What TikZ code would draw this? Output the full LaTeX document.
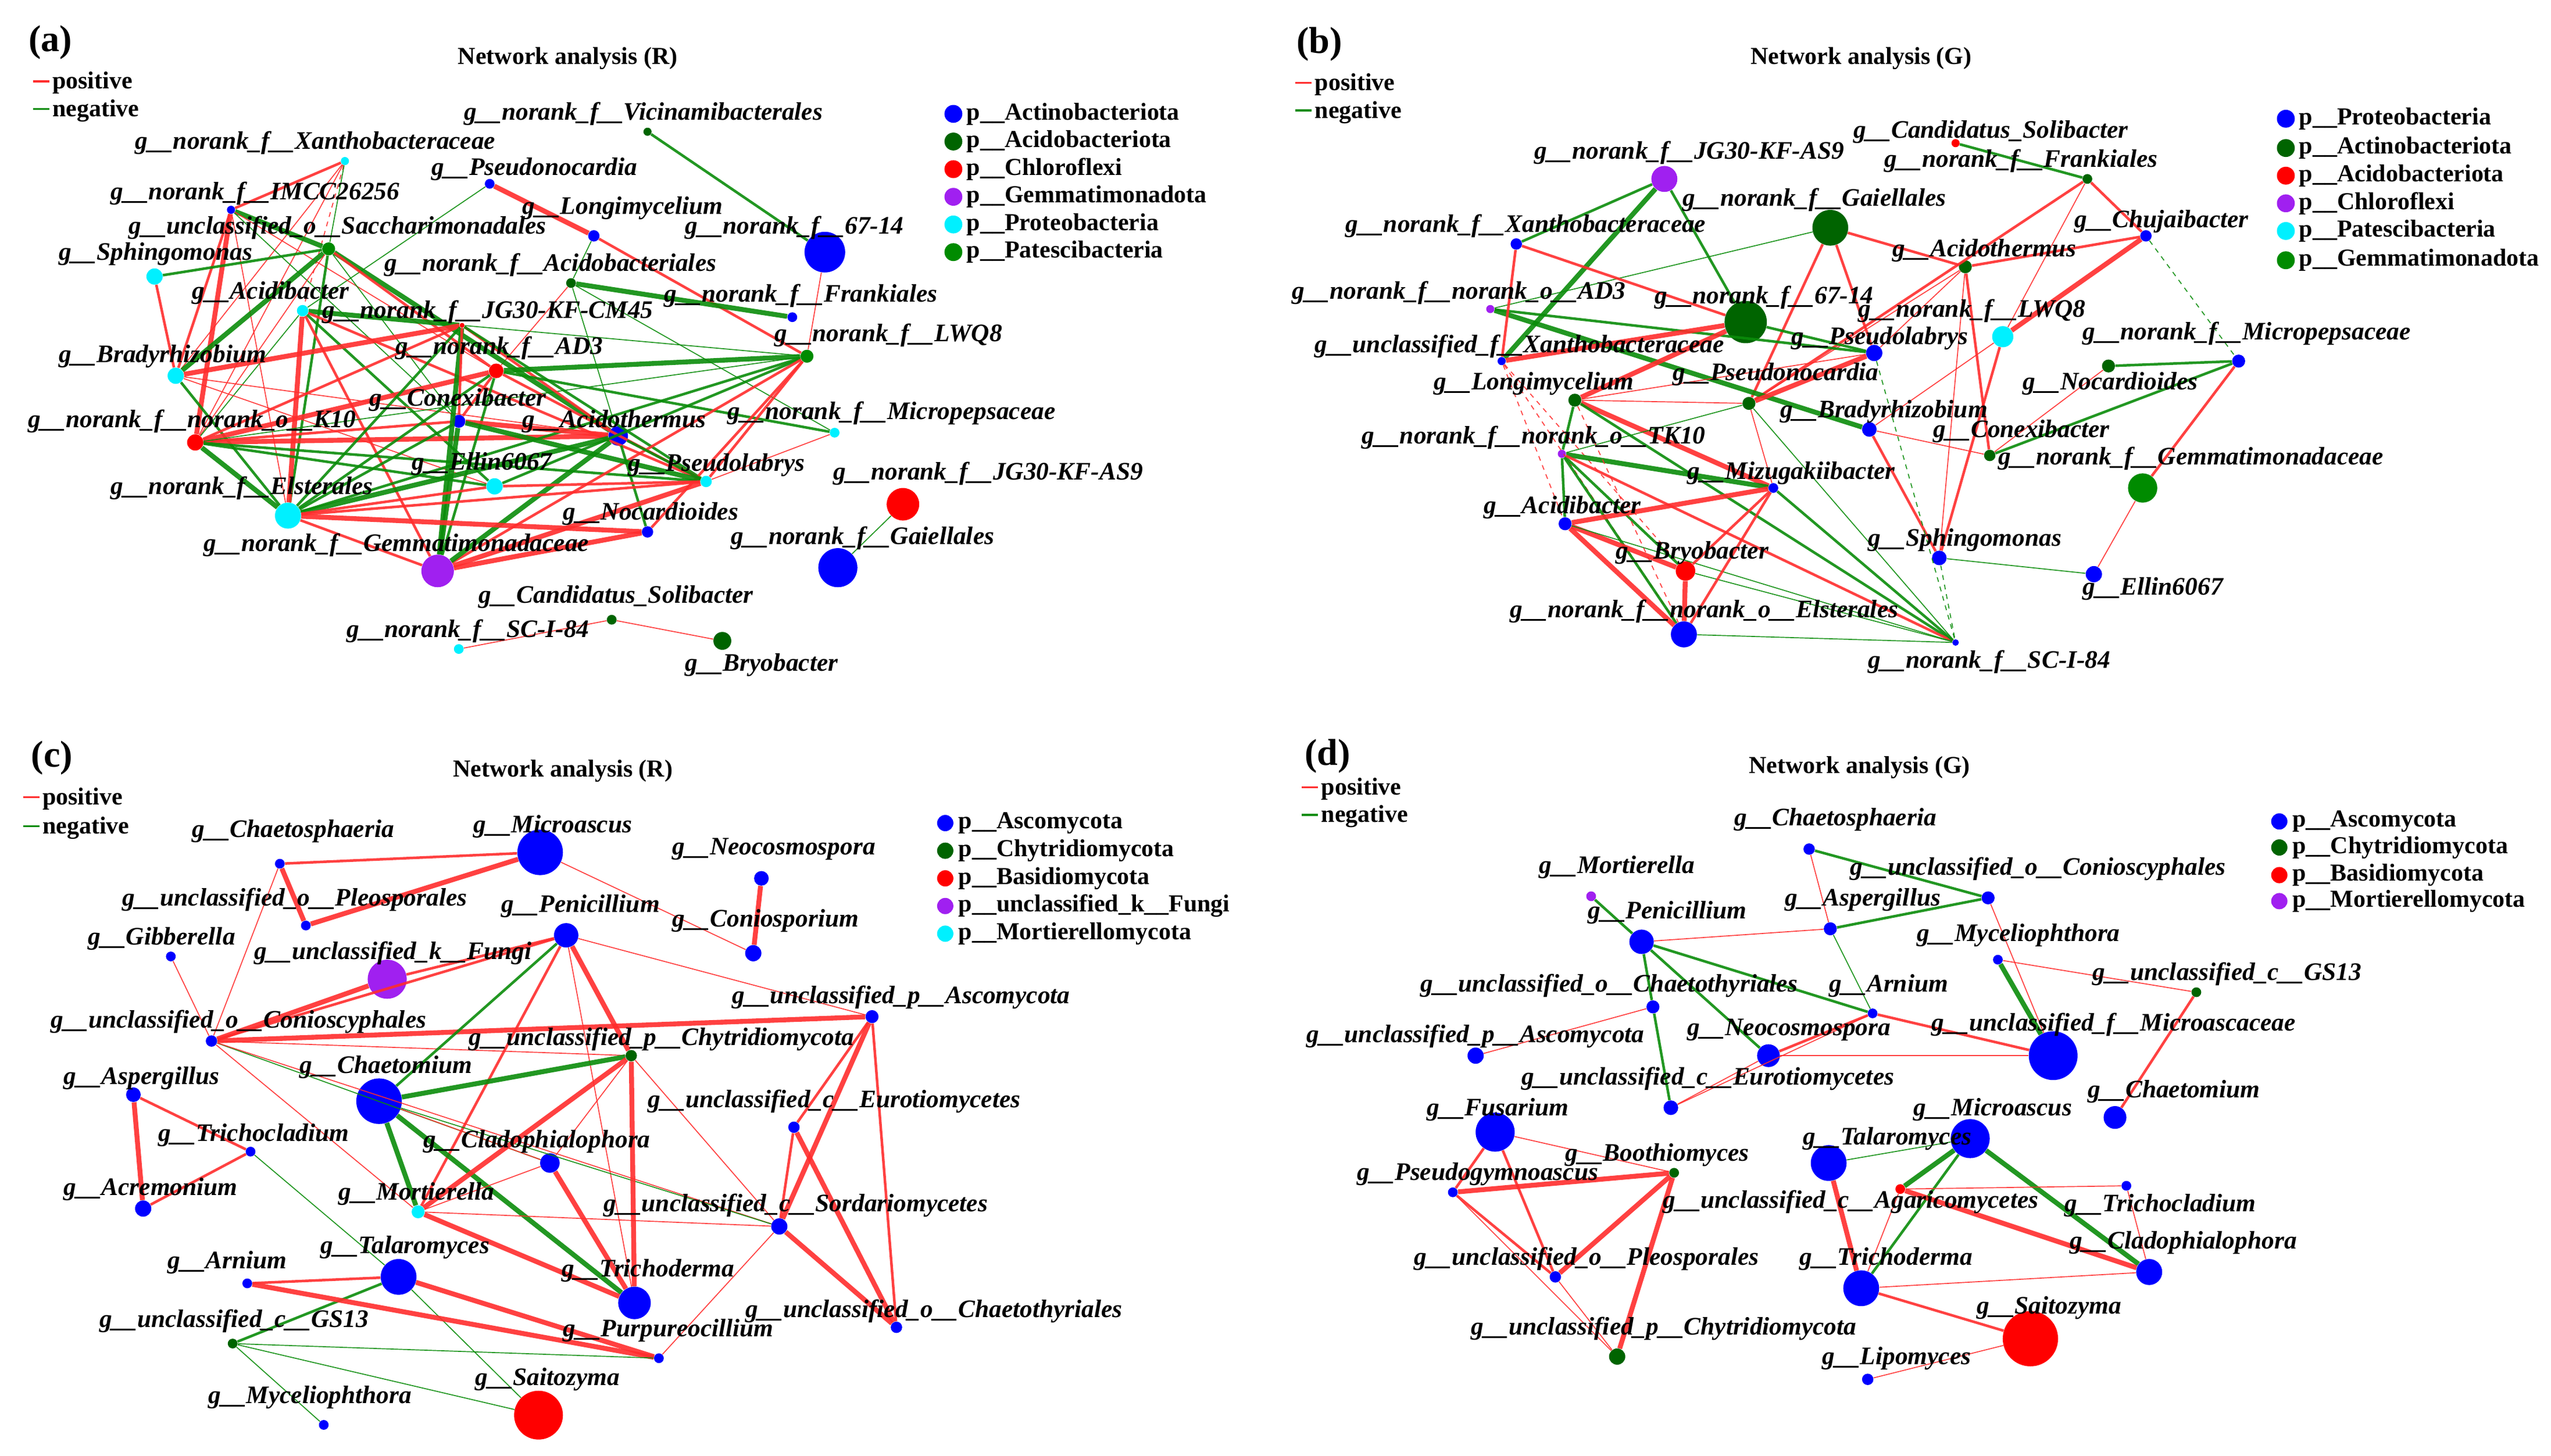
\documentclass[tikz,border=0pt]{standalone}
\usepackage{fontspec}
\setmainfont{Liberation Serif}
\definecolor{cB}{RGB}{0,0,255}
\definecolor{cDG}{RGB}{0,100,0}
\definecolor{cR}{RGB}{255,0,0}
\definecolor{cP}{RGB}{160,32,240}
\definecolor{cC}{RGB}{0,240,255}
\definecolor{cG}{RGB}{0,139,0}
\definecolor{eR}{RGB}{255,45,45}
\definecolor{eG}{RGB}{10,140,10}
\newcommand\labfont{\fontsize{15.5}{16}\selectfont\bfseries\itshape}
\newcommand\legfont{\fontsize{15}{16}\selectfont\bfseries}
\tikzset{
  nd/.style={circle, inner sep=0pt, minimum size=#1, draw=none},
  lab/.style={anchor=west, inner sep=0pt, font=\labfont},
  leg/.style={anchor=west, inner sep=0pt, font=\legfont},
  ttl/.style={inner sep=0pt, font=\legfont},
  plet/.style={inner sep=0pt, font=\fontsize{23}{24}\selectfont\bfseries},
  p1/.style={draw=eR, line width=0.6pt, draw opacity=0.9},
  p2/.style={draw=eR, line width=1.6pt, draw opacity=0.9},
  p3/.style={draw=eR, line width=3pt, draw opacity=0.9},
  n1/.style={draw=eG, line width=0.6pt, draw opacity=0.9},
  n2/.style={draw=eG, line width=1.6pt, draw opacity=0.9},
  n3/.style={draw=eG, line width=3pt, draw opacity=0.9},
}
\newcommand\posleg{{\color{eR}\rule[4pt]{10pt}{1.2pt}}\hspace{2pt}positive}
\newcommand\negleg{{\color{eG}\rule[4pt]{10pt}{1.2pt}}\hspace{2pt}negative}
\begin{document}
\begin{tikzpicture}[x=1pt,y=-1pt]
\fill[white] (0,0) rectangle (1568,895);
\useasboundingbox (0,0) rectangle (1568,895);

%================ PANEL (a) ================
\node[plet] (aLetter) at (31,26) {(a)};
\node[ttl] (aTitle) at (349,36) {Network analysis (R)};
\node[leg] (aPos) at (20,51) {\posleg};
\node[leg] (aNeg) at (20,68) {\negleg};
\node[nd=11, fill=cB] (aD1) at (586,70) {};
\node[leg] (aT1) at (594,70) {p\_\_Actinobacteriota};
\node[nd=11, fill=cDG] (aD2) at (586,87) {};
\node[leg] (aT2) at (594,87) {p\_\_Acidobacteriota};
\node[nd=11, fill=cR] (aD3) at (586,104) {};
\node[leg] (aT3) at (594,104) {p\_\_Chloroflexi};
\node[nd=11, fill=cP] (aD4) at (586,121) {};
\node[leg] (aT4) at (594,121) {p\_\_Gemmatimonadota};
\node[nd=11, fill=cC] (aD5) at (586,138) {};
\node[leg] (aT5) at (594,138) {p\_\_Proteobacteria};
\node[nd=11, fill=cG] (aD6) at (586,155) {};
\node[leg] (aT6) at (594,155) {p\_\_Patescibacteria};

\node[nd=5, fill=cDG] (aVic) at (398,81) {};
\node[nd=5, fill=cC] (aXan) at (212,99) {};
\node[nd=6, fill=cB] (aPsn) at (301,113) {};
\node[nd=5, fill=cB] (aIMC) at (142,129) {};
\node[nd=7, fill=cB] (aLon) at (365,145) {};
\node[nd=25, fill=cB] (a67) at (507,155) {};
\node[nd=8, fill=cG] (aSac) at (202,153) {};
\node[nd=10, fill=cC] (aSph) at (95,170) {};
\node[nd=6, fill=cDG] (aAcb) at (351,174) {};
\node[nd=7, fill=cC] (aAcd) at (186,191) {};
\node[nd=3, fill=cR] (aCM) at (284,200) {};
\node[nd=6, fill=cB] (aFra) at (487,195) {};
\node[nd=8, fill=cG] (aLWQ) at (496,219) {};
\node[nd=9, fill=cR] (aAD3) at (305,228) {};
\node[nd=10, fill=cC] (aBra) at (108,231) {};
\node[nd=8, fill=cB] (aCon) at (282,259) {};
\node[nd=10, fill=cR] (aK10) at (120,272) {};
\node[nd=12, fill=cB] (aAct) at (380,268) {};
\node[nd=6, fill=cC] (aMic) at (513,266) {};
\node[nd=10, fill=cC] (aEll) at (304,299) {};
\node[nd=7, fill=cC] (aPsl) at (434,296) {};
\node[nd=20, fill=cR] (aAS9) at (555,310) {};
\node[nd=16, fill=cC] (aEls) at (177,317) {};
\node[nd=7, fill=cB] (aNoc) at (398,327) {};
\node[nd=20, fill=cP] (aGem) at (269,351) {};
\node[nd=24, fill=cB] (aGai) at (515,349) {};
\node[nd=6, fill=cDG] (aSol) at (376,381) {};
\node[nd=6, fill=cC] (aSCI) at (282,399) {};
\node[nd=11, fill=cDG] (aBry) at (444,394) {};

\draw[p2] (aXan) -- (aIMC);
\draw[p1] (aXan) -- (aK10);
\draw[p1] (aXan) -- (aBra);
\draw[p1, dashed] (aXan) -- (aAcd);
\draw[n1] (aXan) -- (aSac);
\draw[p3] (aPsn) -- (aLon);
\draw[n1] (aPsn) -- (aAcd);
\draw[n2] (aVic) -- (a67);
\draw[n1] (aLon) -- (aAcb);
\draw[p2] (aLon) -- (aLWQ);
\draw[p1] (a67) -- (aLWQ);
\draw[n3] (aAcb) -- (aFra);
\draw[p1] (aAcb) -- (aAD3);
\draw[n1] (aAcb) -- (aAct);
\draw[n1] (aAcb) -- (aMic);
\draw[p3] (aIMC) -- (aK10);
\draw[p2] (aIMC) -- (aBra);
\draw[p1] (aIMC) -- (aEls);
\draw[n3] (aIMC) -- (aSac);
\draw[n1] (aIMC) -- (aCon);
\draw[p1] (aIMC) -- (aAD3);
\draw[n2] (aSac) -- (aSph);
\draw[p2] (aSph) -- (aBra);
\draw[n3] (aSac) -- (aBra);
\draw[n3] (aSac) -- (aAct);
\draw[p2] (aSac) -- (aAD3);
\draw[n2] (aSac) -- (aEls);
\draw[p1] (aSac) -- (aK10);
\draw[n1] (aSac) -- (aCon);
\draw[n3] (aAcd) -- (aCM);
\draw[p3] (aAcd) -- (aEls);
\draw[p2] (aAcd) -- (aGem);
\draw[p2] (aAcd) -- (aPsl);
\draw[n1] (aAcd) -- (aK10);
\draw[n2] (aAcd) -- (aEll);
\draw[p3] (aBra) -- (aCM);
\draw[p1] (aBra) -- (aAct);
\draw[p1] (aBra) -- (aEll);
\draw[n2] (aBra) -- (aEls);
\draw[p2] (aK10) -- (aCM);
\draw[p3] (aK10) -- (aAD3);
\draw[p3] (aK10) -- (aAct);
\draw[p2] (aK10) -- (aCon);
\draw[n3] (aK10) -- (aEls);
\draw[n2] (aK10) -- (aPsl);
\draw[n2] (aK10) -- (aEll);
\draw[n1] (aK10) -- (aLWQ);
\draw[n2] (aCM) -- (aEls);
\draw[n3] (aCM) -- (aGem);
\draw[p2] (aCM) -- (aAct);
\draw[n1] (aCM) -- (aLWQ);
\draw[p2] (aCM) -- (aCon);
\draw[n2] (aCM) -- (aPsl);
\draw[n3] (aAD3) -- (aLWQ);
\draw[p2] (aAD3) -- (aPsl);
\draw[n2] (aAD3) -- (aMic);
\draw[n2] (aAD3) -- (aEls);
\draw[n2] (aAD3) -- (aGem);
\draw[p2] (aAD3) -- (aCon);
\draw[n2] (aLWQ) -- (aEls);
\draw[n2] (aLWQ) -- (aEll);
\draw[p2] (aLWQ) -- (aGem);
\draw[p2] (aLWQ) -- (aNoc);
\draw[p2] (aLWQ) -- (aPsl);
\draw[p3] (aCon) -- (aAct);
\draw[n3] (aCon) -- (aGem);
\draw[n3] (aCon) -- (aPsl);
\draw[n2] (aCon) -- (aEls);
\draw[n3] (aEls) -- (aAct);
\draw[n3] (aGem) -- (aAct);
\draw[n2] (aAct) -- (aPsl);
\draw[n2] (aAct) -- (aNoc);
\draw[p2] (aEls) -- (aEll);
\draw[p2] (aEls) -- (aPsl);
\draw[p3] (aEls) -- (aNoc);
\draw[p2] (aEls) -- (aGem);
\draw[p3] (aGem) -- (aPsl);
\draw[p3] (aGem) -- (aNoc);
\draw[p1] (aMic) -- (aPsl);
\draw[p2] (aEll) -- (aPsl);
\draw[n1] (aAS9) -- (aGai);
\draw[p1] (aSol) -- (aSCI);
\draw[p1] (aSol) -- (aBry);

\node[lab] (aVicL) at (285,70) {g\_\_norank\_f\_\_Vicinamibacterales};
\node[lab] (aXanL) at (83,88) {g\_\_norank\_f\_\_Xanthobacteraceae};
\node[lab] (aPsnL) at (265,104) {g\_\_Pseudonocardia};
\node[lab] (aIMCL) at (68,119) {g\_\_norank\_f\_\_IMCC26256};
\node[lab] (aLonL) at (321,128) {g\_\_Longimycelium};
\node[lab] (a67L) at (421,140) {g\_\_norank\_f\_\_67-14};
\node[lab] (aSacL) at (79,140) {g\_\_unclassified\_o\_\_Saccharimonadales};
\node[lab] (aSphL) at (36,156) {g\_\_Sphingomonas};
\node[lab] (aAcbL) at (236,163) {g\_\_norank\_f\_\_Acidobacteriales};
\node[lab] (aAcdL) at (118,180) {g\_\_Acidibacter};
\node[lab] (aFraL) at (408,182) {g\_\_norank\_f\_\_Frankiales};
\node[lab] (aCML) at (198,192) {g\_\_norank\_f\_\_JG30-KF-CM45};
\node[lab] (aLWQL) at (476,206) {g\_\_norank\_f\_\_LWQ8};
\node[lab] (aAD3L) at (243,214) {g\_\_norank\_f\_\_AD3};
\node[lab] (aBraL) at (36,219) {g\_\_Bradyrhizobium};
\node[lab] (aConL) at (227,246) {g\_\_Conexibacter};
\node[lab] (aMicL) at (447,254) {g\_\_norank\_f\_\_Micropepsaceae};
\node[lab] (aK10L) at (17,259) {g\_\_norank\_f\_\_norank\_o\_\_K10};
\node[lab] (aActL) at (321,259) {g\_\_Acidothermus};
\node[lab] (aEllL) at (253,285) {g\_\_Ellin6067};
\node[lab] (aPslL) at (386,286) {g\_\_Pseudolabrys};
\node[lab] (aAS9L) at (512,291) {g\_\_norank\_f\_\_JG30-KF-AS9};
\node[lab] (aElsL) at (68,300) {g\_\_norank\_f\_\_Elsterales};
\node[lab] (aNocL) at (346,316) {g\_\_Nocardioides};
\node[lab] (aGaiL) at (449,331) {g\_\_norank\_f\_\_Gaiellales};
\node[lab] (aGemL) at (125,335) {g\_\_norank\_f\_\_Gemmatimonadaceae};
\node[lab] (aSolL) at (294,367) {g\_\_Candidatus\_Solibacter};
\node[lab] (aSCIL) at (213,388) {g\_\_norank\_f\_\_SC-I-84};
\node[lab] (aBryL) at (421,409) {g\_\_Bryobacter};

%================ PANEL (b) ================
\node[plet] (bLetter) at (811,27) {(b)};
\node[ttl] (bTitle) at (1144,36) {Network analysis (G)};
\node[leg] (bPos) at (796,52) {\posleg};
\node[leg] (bNeg) at (796,69) {\negleg};
\node[nd=11, fill=cB] (bD1) at (1405,73) {};
\node[leg] (bT1) at (1413,73) {p\_\_Proteobacteria};
\node[nd=11, fill=cDG] (bD2) at (1405,91) {};
\node[leg] (bT2) at (1413,91) {p\_\_Actinobacteriota};
\node[nd=11, fill=cR] (bD3) at (1405,108) {};
\node[leg] (bT3) at (1413,108) {p\_\_Acidobacteriota};
\node[nd=11, fill=cP] (bD4) at (1405,125) {};
\node[leg] (bT4) at (1413,125) {p\_\_Chloroflexi};
\node[nd=11, fill=cC] (bD5) at (1405,142) {};
\node[leg] (bT5) at (1413,142) {p\_\_Patescibacteria};
\node[nd=11, fill=cG] (bD6) at (1405,160) {};
\node[leg] (bT6) at (1413,160) {p\_\_Gemmatimonadota};

\node[nd=16, fill=cP] (bAS9) at (1023,110) {};
\node[nd=5, fill=cR] (bSol) at (1202,88) {};
\node[nd=6, fill=cDG] (bFra) at (1283,110) {};
\node[nd=22, fill=cDG] (bGai) at (1125,140) {};
\node[nd=7, fill=cB] (bXan) at (932,150) {};
\node[nd=7, fill=cB] (bChu) at (1319,145) {};
\node[nd=8, fill=cDG] (bAct) at (1208,164) {};
\node[nd=5, fill=cP] (bAD3) at (916,190) {};
\node[nd=26, fill=cDG] (b67) at (1073,198) {};
\node[nd=13, fill=cC] (bLWQ) at (1231,207) {};
\node[nd=10, fill=cB] (bPsl) at (1152,217) {};
\node[nd=8, fill=cB] (bMic) at (1376,222) {};
\node[nd=5, fill=cB] (bUXa) at (923,222) {};
\node[nd=8, fill=cDG] (bLon) at (968,246) {};
\node[nd=8, fill=cDG] (bPsn) at (1075,248) {};
\node[nd=8, fill=cDG] (bNoc) at (1296,225) {};
\node[nd=9, fill=cB] (bBra) at (1149,264) {};
\node[nd=7, fill=cDG] (bCon) at (1223,280) {};
\node[nd=18, fill=cG] (bGmm) at (1317,300) {};
\node[nd=5, fill=cP] (bTK) at (960,279) {};
\node[nd=6, fill=cB] (bMiz) at (1090,300) {};
\node[nd=8, fill=cB] (bAcd) at (962,322) {};
\node[nd=12, fill=cR] (bBry) at (1036,351) {};
\node[nd=9, fill=cB] (bSph) at (1192,343) {};
\node[nd=10, fill=cB] (bEll) at (1287,353) {};
\node[nd=16, fill=cB] (bEls) at (1035,390) {};
\node[nd=4, fill=cB] (bSCI) at (1202,395) {};

\draw[n2] (bAS9) -- (bXan);
\draw[n3] (bAS9) -- (bUXa);
\draw[n2] (bAS9) -- (b67);
\draw[n2] (bSol) -- (bFra);
\draw[p2] (bFra) -- (bChu);
\draw[p2] (bFra) -- (bPsn);
\draw[p1] (bFra) -- (bLWQ);
\draw[p2] (bGai) -- (bAct);
\draw[p2] (bGai) -- (bPsn);
\draw[p2] (bGai) -- (bPsl);
\draw[n1] (bGai) -- (bAD3);
\draw[p2] (bChu) -- (bAct);
\draw[p3] (bChu) -- (bLWQ);
\draw[n1, dashed] (bChu) -- (bMic);
\draw[p1] (bAct) -- (bPsn);
\draw[p1] (bAct) -- (bPsl);
\draw[p2] (bAct) -- (bCon);
\draw[p1] (bAct) -- (bSph);
\draw[p1] (bLWQ) -- (bBra);
\draw[p2] (bLWQ) -- (bSph);
\draw[n2] (bMic) -- (bNoc);
\draw[n2] (bMic) -- (bCon);
\draw[p2] (bMic) -- (bGmm);
\draw[p1] (bGmm) -- (bEll);
\draw[n1] (bSph) -- (bEll);
\draw[p1] (bCon) -- (bBra);
\draw[p1] (bCon) -- (bNoc);
\draw[p2] (bBra) -- (bSph);
\draw[n3] (bAD3) -- (bBra);
\draw[n2] (bAD3) -- (bPsl);
\draw[p2] (bXan) -- (bUXa);
\draw[p2] (bXan) -- (b67);
\draw[p3] (b67) -- (bUXa);
\draw[n2] (b67) -- (bPsl);
\draw[p3] (bLon) -- (b67);
\draw[p1] (bLon) -- (bPsn);
\draw[p1] (bLon) -- (bPsl);
\draw[n2] (bLon) -- (bTK);
\draw[p3] (bLon) -- (bMiz);
\draw[n2] (bLon) -- (bSCI);
\draw[p1, dashed] (bUXa) -- (bBry);
\draw[p1, dashed] (bUXa) -- (bEls);
\draw[p1, dashed] (bUXa) -- (bAcd);
\draw[p3] (bPsn) -- (bPsl);
\draw[p1] (bPsn) -- (bMiz);
\draw[n1] (bPsn) -- (bSCI);
\draw[n1] (bPsn) -- (bTK);
\draw[n1, dashed] (bPsl) -- (bSCI);
\draw[n3] (bTK) -- (bMiz);
\draw[n2] (bTK) -- (bAcd);
\draw[n2] (bTK) -- (bEls);
\draw[n2] (bTK) -- (bBry);
\draw[p2] (bTK) -- (bSCI);
\draw[p3] (bAcd) -- (bMiz);
\draw[p3] (bAcd) -- (bBry);
\draw[p3] (bAcd) -- (bEls);
\draw[n1] (bAcd) -- (bSCI);
\draw[p2] (bBry) -- (bMiz);
\draw[p3] (bBry) -- (bEls);
\draw[n1] (bBry) -- (bSCI);
\draw[p2] (bMiz) -- (bEls);
\draw[n2] (bMiz) -- (bSCI);
\draw[n1] (bEls) -- (bSCI);
\draw[n1, dashed] (bSph) -- (bSCI);
\draw[p1, dashed] (bLon) -- (bEls);

\node[lab] (bAS9L) at (943,94) {g\_\_norank\_f\_\_JG30-KF-AS9};
\node[lab] (bSolL) at (1139,81) {g\_\_Candidatus\_Solibacter};
\node[lab] (bFraL) at (1158,99) {g\_\_norank\_f\_\_Frankiales};
\node[lab] (bGaiL) at (1034,123) {g\_\_norank\_f\_\_Gaiellales};
\node[lab] (bXanL) at (827,139) {g\_\_norank\_f\_\_Xanthobacteraceae};
\node[lab] (bChuL) at (1275,136) {g\_\_Chujaibacter};
\node[lab] (bActL) at (1163,154) {g\_\_Acidothermus};
\node[lab] (bAD3L) at (794,180) {g\_\_norank\_f\_\_norank\_o\_\_AD3};
\node[lab] (b67L) at (1017,183) {g\_\_norank\_f\_\_67-14};
\node[lab] (bLWQL) at (1142,191) {g\_\_norank\_f\_\_LWQ8};
\node[lab] (bMicL) at (1280,205) {g\_\_norank\_f\_\_Micropepsaceae};
\node[lab] (bPslL) at (1101,208) {g\_\_Pseudolabrys};
\node[lab] (bUXaL) at (808,213) {g\_\_unclassified\_f\_\_Xanthobacteraceae};
\node[lab] (bPsnL) at (1028,230) {g\_\_Pseudonocardia};
\node[lab] (bLonL) at (881,236) {g\_\_Longimycelium};
\node[lab] (bNocL) at (1243,236) {g\_\_Nocardioides};
\node[lab] (bBraL) at (1094,253) {g\_\_Bradyrhizobium};
\node[lab] (bConL) at (1188,265) {g\_\_Conexibacter};
\node[lab] (bTKL) at (837,269) {g\_\_norank\_f\_\_norank\_o\_\_TK10};
\node[lab] (bGmmL) at (1228,282) {g\_\_norank\_f\_\_Gemmatimonadaceae};
\node[lab] (bMizL) at (1037,291) {g\_\_Mizugakiibacter};
\node[lab] (bAcdL) at (912,312) {g\_\_Acidibacter};
\node[lab] (bSphL) at (1148,332) {g\_\_Sphingomonas};
\node[lab] (bBryL) at (993,340) {g\_\_Bryobacter};
\node[lab] (bEllL) at (1280,362) {g\_\_Ellin6067};
\node[lab] (bElsL) at (928,376) {g\_\_norank\_f\_\_norank\_o\_\_Elsterales};
\node[lab] (bSCIL) at (1148,407) {g\_\_norank\_f\_\_SC-I-84};

%================ PANEL (c) ================
\node[plet] (cLetter) at (32,466) {(c)};
\node[ttl] (cTitle) at (346,474) {Network analysis (R)};
\node[leg] (cPos) at (14,491) {\posleg};
\node[leg] (cNeg) at (14,509) {\negleg};
\node[nd=10, fill=cB] (cD1) at (581,506) {};
\node[leg] (cT1) at (589,506) {p\_\_Ascomycota};
\node[nd=10, fill=cDG] (cD2) at (581,523) {};
\node[leg] (cT2) at (589,523) {p\_\_Chytridiomycota};
\node[nd=10, fill=cR] (cD3) at (581,540) {};
\node[leg] (cT3) at (589,540) {p\_\_Basidiomycota};
\node[nd=10, fill=cP] (cD4) at (581,557) {};
\node[leg] (cT4) at (589,557) {p\_\_unclassified\_k\_\_Fungi};
\node[nd=10, fill=cC] (cD5) at (581,574) {};
\node[leg] (cT5) at (589,574) {p\_\_Mortierellomycota};

\node[nd=6, fill=cB] (cChs) at (172,531) {};
\node[nd=28, fill=cB] (cMic) at (332,524) {};
\node[nd=6, fill=cB] (cPle) at (188,569) {};
\node[nd=15, fill=cB] (cPen) at (348,575) {};
\node[nd=6, fill=cB] (cGib) at (105,588) {};
\node[nd=24, fill=cP] (cFun) at (238,602) {};
\node[nd=7, fill=cB] (cCon) at (130,640) {};
\node[nd=7, fill=cDG] (cChy) at (388,649) {};
\node[nd=9, fill=cB] (cNeo) at (468,540) {};
\node[nd=10, fill=cB] (cCos) at (463,586) {};
\node[nd=8, fill=cB] (cAsc) at (536,625) {};
\node[nd=28, fill=cB] (cCht) at (233,677) {};
\node[nd=9, fill=cB] (cAsp) at (82,673) {};
\node[nd=6, fill=cB] (cTcl) at (154,708) {};
\node[nd=12, fill=cB] (cCla) at (338,715) {};
\node[nd=10, fill=cB] (cAcr) at (88,743) {};
\node[nd=8, fill=cC] (cMor) at (257,745) {};
\node[nd=7, fill=cB] (cEur) at (488,693) {};
\node[nd=10, fill=cB] (cSor) at (479,754) {};
\node[nd=22, fill=cB] (cTal) at (245,785) {};
\node[nd=6, fill=cB] (cArn) at (152,789) {};
\node[nd=20, fill=cB] (cTri) at (390,801) {};
\node[nd=6, fill=cB] (cPur) at (405,835) {};
\node[nd=7, fill=cB] (cCtt) at (551,816) {};
\node[nd=6, fill=cDG] (cGS) at (143,826) {};
\node[nd=6, fill=cB] (cMyc) at (199,876) {};
\node[nd=30, fill=cR] (cSai) at (331,870) {};

\draw[p2] (cChs) -- (cMic);
\draw[p3] (cChs) -- (cPle);
\draw[p1] (cChs) -- (cCon);
\draw[p3] (cPle) -- (cMic);
\draw[p1] (cMic) -- (cCos);
\draw[p3] (cNeo) -- (cCos);
\draw[p1] (cGib) -- (cCon);
\draw[p2] (cFun) -- (cPen);
\draw[p3] (cFun) -- (cCon);
\draw[p2] (cCon) -- (cPen);
\draw[p3] (cCon) -- (cAsc);
\draw[p1] (cCon) -- (cChy);
\draw[p1] (cCon) -- (cMor);
\draw[n1] (cCon) -- (cCla);
\draw[p1] (cCon) -- (cSor);
\draw[n2] (cPen) -- (cCht);
\draw[p2] (cPen) -- (cMor);
\draw[p3] (cPen) -- (cChy);
\draw[p1] (cPen) -- (cTri);
\draw[p1] (cPen) -- (cAsc);
\draw[n3] (cCht) -- (cChy);
\draw[n3] (cCht) -- (cMor);
\draw[n3] (cCht) -- (cTri);
\draw[n1] (cCht) -- (cSor);
\draw[p1] (cCht) -- (cCla);
\draw[p3] (cChy) -- (cMor);
\draw[p1] (cChy) -- (cCla);
\draw[p3] (cChy) -- (cTri);
\draw[p1] (cChy) -- (cSor);
\draw[p2] (cAsc) -- (cEur);
\draw[p3] (cAsc) -- (cSor);
\draw[p2] (cAsc) -- (cCtt);
\draw[p2] (cEur) -- (cSor);
\draw[p3] (cEur) -- (cCtt);
\draw[p3] (cSor) -- (cCtt);
\draw[p1] (cSor) -- (cPur);
\draw[p1] (cMor) -- (cSor);
\draw[p3] (cMor) -- (cTri);
\draw[p3] (cCla) -- (cTri);
\draw[p1] (cCla) -- (cMor);
\draw[p3] (cAsp) -- (cAcr);
\draw[p2] (cAsp) -- (cTcl);
\draw[p2] (cTcl) -- (cAcr);
\draw[n1] (cTcl) -- (cTal);
\draw[n1] (cTal) -- (cSai);
\draw[p2] (cTal) -- (cArn);
\draw[n2] (cTal) -- (cGS);
\draw[p3] (cTal) -- (cPur);
\draw[p3] (cArn) -- (cPur);
\draw[n1] (cGS) -- (cPur);
\draw[n1] (cGS) -- (cSai);
\draw[n1] (cGS) -- (cMyc);

\node[lab] (cChsL) at (118,511) {g\_\_Chaetosphaeria};
\node[lab] (cMicL) at (291,508) {g\_\_Microascus};
\node[lab] (cNeoL) at (413,522) {g\_\_Neocosmospora};
\node[lab] (cPleL) at (75,553) {g\_\_unclassified\_o\_\_Pleosporales};
\node[lab] (cPenL) at (308,557) {g\_\_Penicillium};
\node[lab] (cCosL) at (413,566) {g\_\_Coniosporium};
\node[lab] (cGibL) at (54,577) {g\_\_Gibberella};
\node[lab] (cFunL) at (156,586) {g\_\_unclassified\_k\_\_Fungi};
\node[lab] (cAscL) at (450,613) {g\_\_unclassified\_p\_\_Ascomycota};
\node[lab] (cConL) at (31,628) {g\_\_unclassified\_o\_\_Conioscyphales};
\node[lab] (cChyL) at (288,639) {g\_\_unclassified\_p\_\_Chytridiomycota};
\node[lab] (cChtL) at (184,656) {g\_\_Chaetomium};
\node[lab] (cAspL) at (39,663) {g\_\_Aspergillus};
\node[lab] (cEurL) at (398,677) {g\_\_unclassified\_c\_\_Eurotiomycetes};
\node[lab] (cTclL) at (97,698) {g\_\_Trichocladium};
\node[lab] (cClaL) at (260,702) {g\_\_Cladophialophora};
\node[lab] (cAcrL) at (39,731) {g\_\_Acremonium};
\node[lab] (cMorL) at (208,734) {g\_\_Mortierella};
\node[lab] (cSorL) at (371,741) {g\_\_unclassified\_c\_\_Sordariomycetes};
\node[lab] (cTalL) at (197,767) {g\_\_Talaromyces};
\node[lab] (cArnL) at (103,776) {g\_\_Arnium};
\node[lab] (cTriL) at (345,781) {g\_\_Trichoderma};
\node[lab] (cCttL) at (458,806) {g\_\_unclassified\_o\_\_Chaetothyriales};
\node[lab] (cGSL) at (61,812) {g\_\_unclassified\_c\_\_GS13};
\node[lab] (cPurL) at (346,818) {g\_\_Purpureocillium};
\node[lab] (cSaiL) at (292,848) {g\_\_Saitozyma};
\node[lab] (cMycL) at (128,859) {g\_\_Myceliophthora};

%================ PANEL (d) ================
\node[plet] (dLetter) at (816,465) {(d)};
\node[ttl] (dTitle) at (1143,472) {Network analysis (G)};
\node[leg] (dPos) at (800,485) {\posleg};
\node[leg] (dNeg) at (800,502) {\negleg};
\node[nd=10, fill=cB] (dD1) at (1401,505) {};
\node[leg] (dT1) at (1409,505) {p\_\_Ascomycota};
\node[nd=10, fill=cDG] (dD2) at (1401,521) {};
\node[leg] (dT2) at (1409,521) {p\_\_Chytridiomycota};
\node[nd=10, fill=cR] (dD3) at (1401,538) {};
\node[leg] (dT3) at (1409,538) {p\_\_Basidiomycota};
\node[nd=10, fill=cP] (dD4) at (1401,554) {};
\node[leg] (dT4) at (1409,554) {p\_\_Mortierellomycota};

\node[nd=7, fill=cB] (dChs) at (1112,522) {};
\node[nd=6, fill=cP] (dMor) at (978,551) {};
\node[nd=15, fill=cB] (dPen) at (1009,579) {};
\node[nd=8, fill=cB] (dAsp) at (1125,571) {};
\node[nd=8, fill=cB] (dCon) at (1222,552) {};
\node[nd=6, fill=cB] (dMyc) at (1228,590) {};
\node[nd=6, fill=cDG] (dGS) at (1350,610) {};
\node[nd=8, fill=cB] (dCtt) at (1016,619) {};
\node[nd=6, fill=cB] (dArn) at (1151,623) {};
\node[nd=10, fill=cB] (dAsc) at (907,649) {};
\node[nd=14, fill=cB] (dNeo) at (1087,649) {};
\node[nd=30, fill=cB] (dMcc) at (1262,649) {};
\node[nd=9, fill=cB] (dEur) at (1027,681) {};
\node[nd=14, fill=cB] (dCht) at (1300,687) {};
\node[nd=24, fill=cB] (dFus) at (919,696) {};
\node[nd=24, fill=cB] (dMic) at (1211,700) {};
\node[nd=22, fill=cB] (dTal) at (1124,715) {};
\node[nd=6, fill=cDG] (dBoo) at (1029,721) {};
\node[nd=6, fill=cB] (dPsg) at (893,733) {};
\node[nd=6, fill=cR] (dAga) at (1168,731) {};
\node[nd=6, fill=cB] (dTcl) at (1307,729) {};
\node[nd=7, fill=cB] (dPle) at (956,785) {};
\node[nd=22, fill=cB] (dTri) at (1144,792) {};
\node[nd=16, fill=cB] (dCla) at (1321,782) {};
\node[nd=34, fill=cR] (dSai) at (1248,823) {};
\node[nd=10, fill=cDG] (dChy) at (994,834) {};
\node[nd=7, fill=cB] (dLip) at (1148,848) {};

\draw[n2] (dChs) -- (dCon);
\draw[p1] (dChs) -- (dAsp);
\draw[n2] (dMor) -- (dPen);
\draw[p1] (dPen) -- (dAsp);
\draw[n2] (dPen) -- (dCtt);
\draw[n2] (dPen) -- (dArn);
\draw[n2] (dPen) -- (dNeo);
\draw[n2] (dAsp) -- (dCon);
\draw[n1] (dAsp) -- (dArn);
\draw[p1] (dCon) -- (dMcc);
\draw[n3] (dMyc) -- (dMcc);
\draw[p1] (dMyc) -- (dGS);
\draw[p2] (dGS) -- (dCht);
\draw[p2] (dArn) -- (dNeo);
\draw[p2] (dArn) -- (dMcc);
\draw[p1] (dNeo) -- (dMcc);
\draw[p1] (dNeo) -- (dEur);
\draw[p1] (dArn) -- (dEur);
\draw[p1] (dCtt) -- (dAsc);
\draw[n2] (dCtt) -- (dEur);
\draw[p1] (dFus) -- (dBoo);
\draw[p2] (dFus) -- (dPsg);
\draw[p2] (dFus) -- (dPle);
\draw[p3] (dPsg) -- (dBoo);
\draw[p2] (dPsg) -- (dPle);
\draw[p1] (dPsg) -- (dChy);
\draw[p3] (dBoo) -- (dPle);
\draw[p3] (dBoo) -- (dChy);
\draw[p1] (dPle) -- (dChy);
\draw[n1] (dTal) -- (dMic);
\draw[p3] (dTal) -- (dTri);
\draw[n3] (dMic) -- (dAga);
\draw[n2] (dMic) -- (dTri);
\draw[n3] (dMic) -- (dCla);
\draw[p1] (dAga) -- (dTcl);
\draw[p3] (dAga) -- (dCla);
\draw[p1] (dAga) -- (dTri);
\draw[p1] (dTcl) -- (dCla);
\draw[p1] (dTri) -- (dCla);
\draw[p2] (dTri) -- (dSai);
\draw[p1] (dSai) -- (dLip);

\node[lab] (dChsL) at (1066,504) {g\_\_Chaetosphaeria};
\node[lab] (dMorL) at (946,533) {g\_\_Mortierella};
\node[lab] (dConL) at (1137,534) {g\_\_unclassified\_o\_\_Conioscyphales};
\node[lab] (dAspL) at (1097,553) {g\_\_Aspergillus};
\node[lab] (dPenL) at (976,561) {g\_\_Penicillium};
\node[lab] (dMycL) at (1178,575) {g\_\_Myceliophthora};
\node[lab] (dGSL) at (1286,599) {g\_\_unclassified\_c\_\_GS13};
\node[lab] (dCttL) at (873,606) {g\_\_unclassified\_o\_\_Chaetothyriales};
\node[lab] (dArnL) at (1124,606) {g\_\_Arnium};
\node[lab] (dMccL) at (1187,630) {g\_\_unclassified\_f\_\_Microascaceae};
\node[lab] (dNeoL) at (1037,633) {g\_\_Neocosmospora};
\node[lab] (dAscL) at (803,637) {g\_\_unclassified\_p\_\_Ascomycota};
\node[lab] (dEurL) at (935,663) {g\_\_unclassified\_c\_\_Eurotiomycetes};
\node[lab] (dChtL) at (1283,671) {g\_\_Chaetomium};
\node[lab] (dFusL) at (877,682) {g\_\_Fusarium};
\node[lab] (dMicL) at (1176,682) {g\_\_Microascus};
\node[lab] (dTalL) at (1108,700) {g\_\_Talaromyces};
\node[lab] (dBooL) at (962,710) {g\_\_Boothiomyces};
\node[lab] (dPsgL) at (834,722) {g\_\_Pseudogymnoascus};
\node[lab] (dAgaL) at (1022,739) {g\_\_unclassified\_c\_\_Agaricomycetes};
\node[lab] (dTclL) at (1269,741) {g\_\_Trichocladium};
\node[lab] (dClaL) at (1272,764) {g\_\_Cladophialophora};
\node[lab] (dPleL) at (869,774) {g\_\_unclassified\_o\_\_Pleosporales};
\node[lab] (dTriL) at (1106,774) {g\_\_Trichoderma};
\node[lab] (dSaiL) at (1215,804) {g\_\_Saitozyma};
\node[lab] (dChyL) at (904,817) {g\_\_unclassified\_p\_\_Chytridiomycota};
\node[lab] (dLipL) at (1120,835) {g\_\_Lipomyces};
\end{tikzpicture}
\end{document}
